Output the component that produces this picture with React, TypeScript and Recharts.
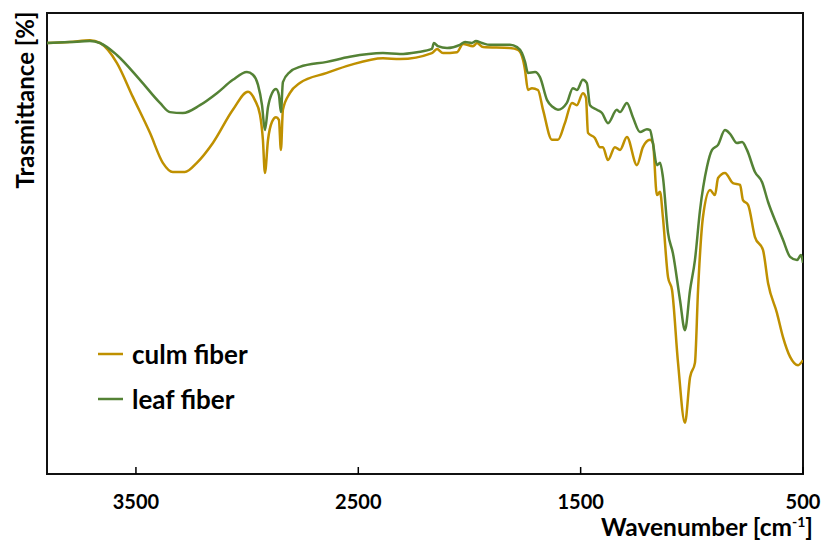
import { LineChart, Line, XAxis, YAxis, ReferenceArea, Legend, Label } from "recharts";

// culm fiber spectrum (wavenumber cm-1 -> transmittance, arbitrary %)
const culmWavenumber = [
  3900, 3797, 3707, 3662, 3586, 3514, 3437, 3379, 3334, 3280, 3226, 3154, 3064, 2996, 2965, 2942,
  2929, 2920, 2906, 2888, 2870, 2857, 2848, 2839, 2808, 2763, 2641, 2538, 2389, 2313, 2169, 2146,
  2119, 2056, 2029, 1984, 1966, 1939, 1818, 1782, 1759, 1750, 1737, 1719, 1692, 1669, 1629, 1602,
  1571, 1539, 1517, 1490, 1476, 1467, 1436, 1413, 1400, 1377, 1346, 1323, 1292, 1247, 1220, 1188,
  1175, 1157, 1143, 1130, 1107, 1089, 1062, 1031, 1008, 986, 972, 950, 918, 896, 882, 851,
  815, 783, 770, 747, 716, 680, 657, 617, 590, 558, 522, 500,
];
const culmTransmittance = [
  93.5, 93.7, 94.1, 93.5, 89.2, 81.8, 74.0, 67.5, 65.5, 65.5, 67.5, 71.8, 79.0, 82.9, 81.1, 77.9,
  72.5, 65.3, 72.5, 76.4, 77.4, 76.8, 70.3, 79.0, 82.6, 84.8, 87.0, 88.7, 90.2, 90.0, 91.3, 92.2,
  91.3, 91.5, 93.3, 92.8, 93.5, 92.6, 92.4, 92.0, 89.8, 87.6, 83.3, 83.7, 83.3, 79.0, 72.5, 72.5,
  76.1, 80.5, 80.0, 82.6, 81.6, 74.0, 72.9, 70.9, 70.9, 68.1, 70.9, 70.3, 73.1, 67.0, 70.9, 72.5,
  71.8, 60.5, 61.2, 55.7, 42.7, 39.9, 24.1, 11.1, 21.0, 24.1, 39.9, 55.7, 61.6, 60.5, 64.2, 65.3,
  63.1, 62.7, 59.4, 58.4, 51.4, 48.6, 41.4, 34.9, 29.7, 25.4, 23.6, 24.7,
];

// leaf fiber spectrum
const leafWavenumber = [
  3900, 3797, 3707, 3662, 3586, 3482, 3392, 3347, 3289, 3212, 3136, 3064, 3001, 2974, 2951, 2933,
  2920, 2906, 2888, 2870, 2857, 2848, 2839, 2808, 2763, 2641, 2538, 2389, 2313, 2236, 2169, 2160,
  2142, 2101, 2043, 2020, 1989, 1971, 1944, 1908, 1818, 1786, 1764, 1750, 1737, 1705, 1683, 1651,
  1625, 1602, 1562, 1535, 1517, 1490, 1472, 1458, 1427, 1404, 1377, 1337, 1323, 1292, 1265, 1233,
  1202, 1188, 1175, 1157, 1143, 1130, 1107, 1085, 1053, 1031, 1008, 986, 963, 932, 909, 882,
  851, 828, 797, 774, 752, 716, 684, 657, 617, 590, 558, 527, 509, 500,
];
const leafTransmittance = [
  93.5, 93.7, 93.9, 93.5, 90.9, 85.5, 80.5, 78.5, 78.3, 80.0, 82.6, 85.5, 87.2, 86.6, 84.4, 80.0,
  74.6, 79.6, 82.6, 83.5, 82.2, 78.5, 85.0, 87.2, 88.3, 89.4, 90.5, 91.3, 91.1, 91.5, 92.2, 93.5,
  92.8, 92.4, 93.1, 93.7, 93.5, 93.9, 93.5, 93.1, 93.1, 92.6, 91.3, 89.4, 87.0, 87.2, 86.1, 81.1,
  79.6, 79.0, 80.5, 83.7, 83.3, 85.5, 84.8, 80.0, 79.0, 78.3, 76.1, 79.0, 78.5, 80.5, 77.4, 74.2,
  74.8, 74.6, 71.8, 67.0, 67.5, 64.4, 52.3, 47.9, 37.7, 31.2, 39.9, 46.4, 57.3, 66.6, 70.3, 71.4,
  74.6, 73.8, 71.8, 72.0, 70.3, 65.5, 63.3, 59.0, 54.0, 50.8, 47.1, 46.4, 47.5, 45.8,
];

const xTicks = [3500, 2500, 1500, 500];

const culmData = culmWavenumber.map((w, i) => ({ w, t: culmTransmittance[i] }));
const leafData = leafWavenumber.map((w, i) => ({ w, t: leafTransmittance[i] }));

const FONT = "Lato, 'Liberation Sans', sans-serif";

const WaveTick = (props: any) => {
  const { x, y, payload } = props;
  return (
    <g>
      <line x1={x} x2={x} y1={y - 7} y2={y} stroke="#000" strokeWidth={1.5} />
      <text x={x} y={y + 35} textAnchor="middle" fontFamily={FONT} fontWeight={700} fontSize={20} fill="#000">
        {payload.value}
      </text>
    </g>
  );
};

// axis titles, drawn at the reference's spots
const AxisTitles = () => (
  <g fontFamily={FONT} fontWeight={700} fill="#000">
    <text x={813} y={536} textAnchor="end" fontSize={24.5}>
      Wavenumber [cm
      <tspan dy={-9} fontSize={14}>-1</tspan>
      <tspan dy={9}>]</tspan>
    </text>
    <text
      x={24}
      y={100}
      transform="rotate(-90, 24, 100)"
      textAnchor="middle"
      dominantBaseline="central"
      fontSize={24}
    >
      Trasmittance [%]
    </text>
  </g>
);

const renderLegend = (props: any) => (
  <div style={{ fontFamily: FONT, fontWeight: 700, fontSize: 26, color: "#000" }}>
    {props.payload.map((entry: any) => (
      <div key={entry.value} style={{ display: "flex", alignItems: "center", height: 45 }}>
        <svg width={34} height={4}>
          <line x1={0} x2={25} y1={2} y2={2} stroke={entry.color} strokeWidth={2.5} />
        </svg>
        <span>{entry.value}</span>
      </div>
    ))}
  </div>
);

export default function App() {
  return (
    <div style={{ position: "absolute", left: 0, top: 0, background: "#fff" }}>
      <LineChart width={821} height={543} margin={{ top: 13, right: 18, left: 47, bottom: 0 }}>
        <XAxis
          dataKey="w"
          type="number"
          domain={[500, 3900]}
          reversed
          allowDataOverflow
          ticks={xTicks}
          tickSize={0}
          tickMargin={0}
          tickLine={false}
          axisLine={false}
          height={69}
          tick={<WaveTick />}
        >
          <Label content={() => <AxisTitles />} />
        </XAxis>
        <YAxis type="number" domain={[0, 100]} width={0} hide />
        <ReferenceArea x1={3900} x2={500} y1={0} y2={100} fill="none" stroke="#111" strokeWidth={2} ifOverflow="visible" />
        <Line
          data={culmData}
          dataKey="t"
          name="culm fiber"
          type="monotone"
          stroke="#BF9000"
          strokeWidth={2.5}
          dot={false}
          isAnimationActive={false}
        />
        <Line
          data={leafData}
          dataKey="t"
          name="leaf fiber"
          type="monotone"
          stroke="#548235"
          strokeWidth={2.5}
          dot={false}
          isAnimationActive={false}
        />
        <Legend
          layout="vertical"
          align="center"
          verticalAlign="middle"
          content={renderLegend}
          wrapperStyle={{ left: 98, top: 331, width: "auto", height: "auto" }}
        />
      </LineChart>
    </div>
  );
}
